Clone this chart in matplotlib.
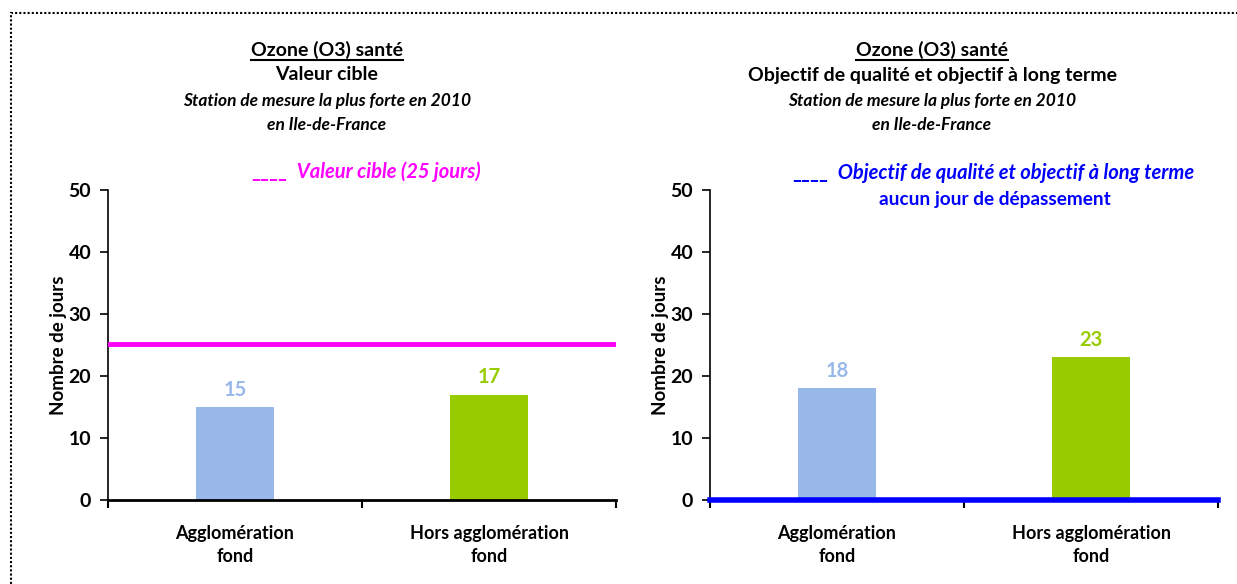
import numpy as np
import matplotlib.pyplot as plt
from matplotlib.patches import Rectangle

# Data
categories = ['Agglomération\nfond', 'Hors agglomération\nfond']
values_cible = [15, 17]
values_objectif = [18, 23]
seuil_cible = 25.2
seuil_objectif = 0
bar_colors = ['#99B8EA', '#99CC00']

plt.rcParams['font.family'] = ['Lato', 'DejaVu Sans']

fig = plt.figure(figsize=(12.37, 5.84), dpi=100)

W, H = 1237, 584


def make_axes(left_px, right_px):
    return fig.add_axes([left_px / W, (H - 500) / H,
                         (right_px - left_px) / W, 310 / H])


def style_axes(ax):
    x = np.arange(len(categories))
    ax.set_xlim(-0.5, len(categories) - 0.5)
    ax.set_ylim(0, 50)
    ax.set_yticks(range(0, 51, 10))
    ax.set_xticks(x)
    ax.set_xticklabels(categories, fontsize=13, fontweight='bold', linespacing=1.4)
    ax.tick_params(axis='x', length=0, pad=18)
    ax.set_xticks([-0.5, 0.5, 1.5], minor=True)
    ax.tick_params(axis='x', which='minor', length=6, width=1.5, direction='out')
    ax.tick_params(axis='y', length=6, width=1.2, labelsize=14, pad=6)
    for lab in ax.get_yticklabels():
        lab.set_fontweight('bold')
    ax.spines['top'].set_visible(False)
    ax.spines['right'].set_visible(False)
    ax.spines['left'].set_linewidth(1.2)
    ax.spines['bottom'].set_linewidth(2)
    ax.set_ylabel('Nombre de jours', fontsize=13.5, fontweight='bold', labelpad=1)


def draw_bars(ax, values):
    x = np.arange(len(categories))
    ax.bar(x, values, width=0.31, color=bar_colors, zorder=2)
    for xi, v, c in zip(x, values, bar_colors):
        ax.text(xi, v + 1.2, str(v), ha='center', va='bottom',
                fontsize=14.5, fontweight='bold', color=c)


# Left panel
ax1 = make_axes(108, 616)
style_axes(ax1)
draw_bars(ax1, values_cible)
ax1.axhline(seuil_cible, color='#FF00FF', lw=3.5, zorder=3)

# Right panel
ax2 = make_axes(710, 1218)
style_axes(ax2)
draw_bars(ax2, values_objectif)
ax2.axhline(seuil_objectif, color='#0000FF', lw=4, zorder=4, clip_on=False)

# Titles
heads = []


def titles(xc, line2):
    t = fig.text(xc / W, 1 - 50 / H, 'Ozone (O3) santé', ha='center', va='center',
                 fontsize=14, fontweight='bold')
    heads.append(t)
    fig.text(xc / W, 1 - 75 / H, line2, ha='center', va='center',
             fontsize=14, fontweight='bold')
    fig.text(xc / W, 1 - 101 / H, 'Station de mesure la plus forte en 2010',
             ha='center', va='center', fontsize=12.5, fontweight='bold', style='italic')
    fig.text(xc / W, 1 - 125 / H, 'en Ile-de-France',
             ha='center', va='center', fontsize=12.5, fontweight='bold', style='italic')


titles(327, 'Valeur cible')
titles(932, 'Objectif de qualité et objectif à long terme')

# underline of first title line, sized from the text extent
fig.canvas.draw()
renderer = fig.canvas.get_renderer()
for t in heads:
    bb = t.get_window_extent(renderer=renderer)
    y = 1 - 60 / H
    fig.add_artist(plt.Line2D([bb.x0 / W, bb.x1 / W], [y, y], color='black', lw=1.5))

fig.text(367 / W, 1 - 172 / H, '____  Valeur cible (25 jours)', ha='center',
         va='center', fontsize=14.5, fontweight='bold', style='italic', color='#FF00FF')
fig.text(994 / W, 1 - 173 / H, '____  Objectif de qualité et objectif à long terme',
         ha='center', va='center', fontsize=14.5, fontweight='bold', style='italic',
         color='#0000FF')
fig.text(995 / W, 1 - 199 / H, 'aucun jour de dépassement', ha='center',
         va='center', fontsize=13.7, fontweight='bold', color='#0000FF')

# dotted frame
fig.add_artist(Rectangle((11 / W, -0.05), 1.0, 1 - 13 / H + 0.05,
                         transform=fig.transFigure, fill=False,
                         linestyle=(0, (1, 1)), lw=1.5, edgecolor='black'))

fig.savefig('out.png', dpi=100)
